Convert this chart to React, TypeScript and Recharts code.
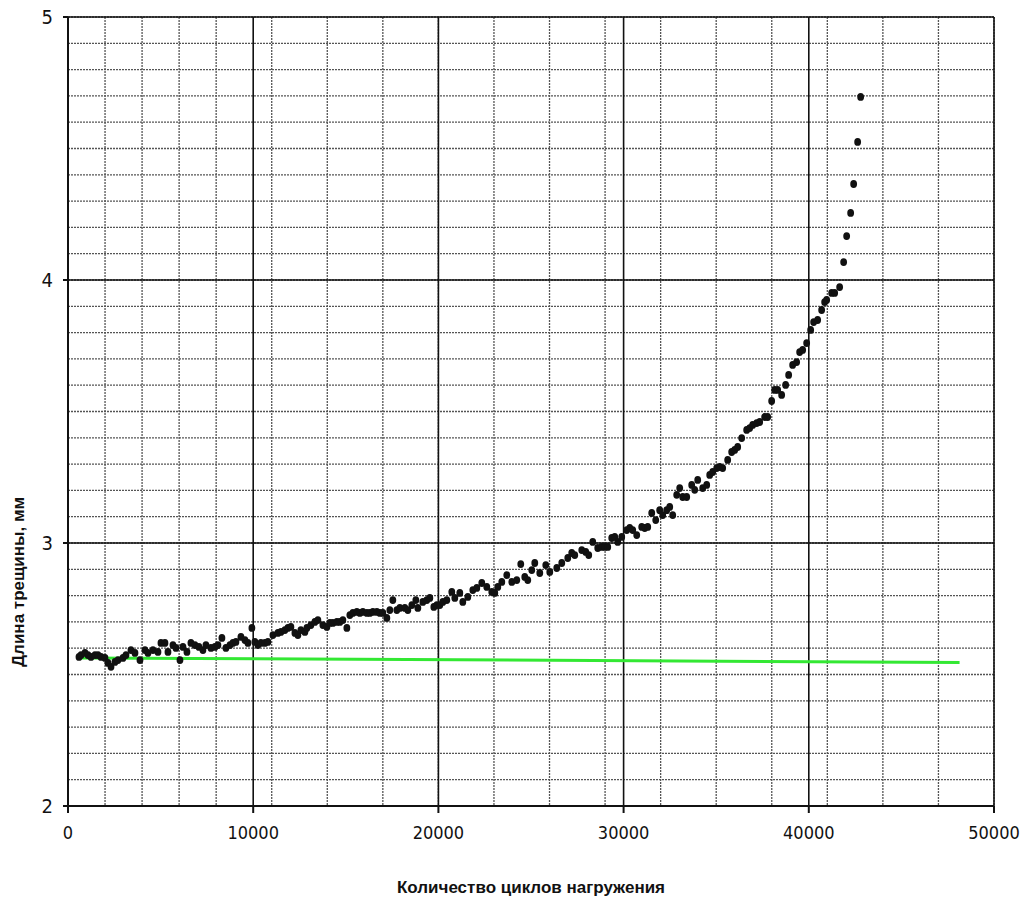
import React from "react";
import {
  ScatterChart,
  Scatter,
  XAxis,
  YAxis,
  CartesianGrid,
  Label,
} from "recharts";

// Number of load cycles for each measured point
const cycles = [
  594, 702, 918, 1079, 1241, 1457, 1619, 1781, 1997, 2159, 2321, 2537, 2699, 2968, 3130, 3400, 3616, 3886, 4156, 4318,
  4587, 4857, 5019, 5235, 5397, 5667, 5829, 6045, 6207, 6422, 6638, 6854, 7070, 7286, 7448, 7718, 7934, 8096, 8311, 8527,
  8743, 8905, 9067, 9337, 9553, 9715, 9930, 10092, 10254, 10416, 10632, 10794, 11064, 11334, 11496, 11711, 11873, 12035, 12251, 12413,
  12575, 12791, 12899, 13115, 13331, 13493, 13763, 13979, 14140, 14302, 14518, 14680, 14842, 15058, 15219, 15381, 15597, 15759, 15921, 16137,
  16299, 16461, 16677, 16839, 17001, 17216, 17378, 17540, 17756, 17918, 18188, 18350, 18566, 18782, 18890, 19159, 19375, 19537, 19753, 19915,
  20077, 20239, 20455, 20724, 20886, 21156, 21318, 21588, 21858, 22074, 22344, 22613, 22883, 23045, 23207, 23423, 23693, 23963, 24232, 24448,
  24664, 24826, 25042, 25204, 25474, 25798, 26014, 26392, 26661, 26986, 27200, 27363, 27741, 27956, 28118, 28334, 28604, 28820, 28982, 29144,
  29360, 29522, 29684, 29899, 30169, 30331, 30493, 30709, 30979, 31141, 31303, 31519, 31735, 31950, 32112, 32328, 32490, 32652, 32868, 33030,
  33192, 33408, 33677, 33839, 34001, 34271, 34487, 34649, 34811, 35027, 35189, 35350, 35620, 35836, 35998, 36160, 36376, 36645, 36807, 36969,
  37185, 37347, 37617, 37779, 37995, 38157, 38319, 38534, 38750, 38912, 39128, 39344, 39506, 39668, 39884, 40100, 40262, 40478, 40694, 40856,
  40964, 41234, 41396, 41666, 41882, 42044, 42260, 42422, 42638, 42800,
];

// Crack length, mm
const crackLength = [
  2.567, 2.574, 2.582, 2.574, 2.567, 2.574, 2.574, 2.567, 2.563, 2.544, 2.529, 2.548, 2.555, 2.563, 2.574, 2.593, 2.582, 2.555, 2.593, 2.582,
  2.593, 2.586, 2.62, 2.62, 2.586, 2.612, 2.601, 2.555, 2.605, 2.586, 2.62, 2.612, 2.605, 2.593, 2.612, 2.601, 2.605, 2.612, 2.639, 2.601,
  2.612, 2.62, 2.624, 2.643, 2.631, 2.62, 2.677, 2.624, 2.612, 2.62, 2.62, 2.624, 2.65, 2.658, 2.662, 2.669, 2.677, 2.681, 2.658, 2.65,
  2.669, 2.662, 2.677, 2.688, 2.7, 2.707, 2.688, 2.681, 2.696, 2.696, 2.7, 2.7, 2.707, 2.677, 2.726, 2.734, 2.738, 2.734, 2.738, 2.734,
  2.734, 2.738, 2.738, 2.734, 2.734, 2.715, 2.745, 2.783, 2.745, 2.753, 2.753, 2.745, 2.764, 2.783, 2.753, 2.776, 2.783, 2.791, 2.757, 2.764,
  2.764, 2.776, 2.783, 2.814, 2.791, 2.81, 2.776, 2.795, 2.821, 2.829, 2.848, 2.833, 2.814, 2.81, 2.833, 2.852, 2.878, 2.852, 2.859, 2.92,
  2.871, 2.859, 2.897, 2.924, 2.886, 2.916, 2.89, 2.905, 2.924, 2.943, 2.962, 2.954, 2.973, 2.966, 2.954, 3.004, 2.981, 2.985, 2.985, 2.985,
  3.019, 3.023, 3.004, 3.023, 3.049, 3.057, 3.049, 3.03, 3.061, 3.057, 3.061, 3.114, 3.087, 3.125, 3.106, 3.125, 3.137, 3.106, 3.183, 3.209,
  3.175, 3.175, 3.221, 3.202, 3.24, 3.209, 3.221, 3.259, 3.27, 3.285, 3.289, 3.285, 3.316, 3.346, 3.354, 3.365, 3.399, 3.43, 3.437, 3.449,
  3.456, 3.46, 3.479, 3.479, 3.54, 3.582, 3.582, 3.563, 3.601, 3.639, 3.677, 3.688, 3.726, 3.734, 3.76, 3.81, 3.84, 3.848, 3.886, 3.916,
  3.924, 3.951, 3.951, 3.973, 4.068, 4.167, 4.255, 4.365, 4.525, 4.696,
];

// Green reference line (initial crack length)
const refCycles = [540, 48140];
const refLength = [2.563, 2.546];

const xTicks = [0, 10000, 20000, 30000, 40000, 50000];
const yTicks = [2, 3, 4, 5];
const xMinor = Array.from({ length: 51 }, (_, i) => i * 1000);
const yMinor = Array.from({ length: 31 }, (_, i) => Math.round((2 + i * 0.1) * 10) / 10);

const points = cycles.map((x, i) => ({ x, y: crackLength[i] }));
const refLine = refCycles.map((x, i) => ({ x, y: refLength[i] }));

const FONT = "'DejaVu Sans Condensed', 'Liberation Sans Narrow', 'Arial Narrow', 'Liberation Sans', Arial, sans-serif";
const TITLE_FONT = "'Liberation Sans', Arial, sans-serif";

const Dot = (props: any) => {
  const { cx, cy } = props;
  if (cx == null || cy == null) return null;
  return <ellipse cx={cx} cy={cy} rx={3.4} ry={3.9} fill="#111" />;
};

const NoDot = () => null;

export default function App() {
  return (
    <div style={{ position: "absolute", left: 0, top: 0, width: 1024, height: 904, background: "#fff" }}>
      <ScatterChart
        width={1024}
        height={904}
        margin={{ top: 17, right: 30, left: 0, bottom: 0 }}
      >
        <CartesianGrid
          stroke="#555"
          strokeWidth={1.3}
          strokeDasharray="2 1"
          horizontalValues={yMinor}
          verticalValues={xMinor}
        />
        <CartesianGrid
          stroke="#111"
          strokeWidth={1.6}
          horizontalValues={yTicks}
          verticalValues={xTicks}
        />
        <XAxis
          type="number"
          dataKey="x"
          domain={[0, 50000]}
          ticks={xTicks}
          allowDataOverflow
          height={98}
          tickSize={7}
          tickMargin={13}
          stroke="#111"
          strokeWidth={2}
          tick={{ fill: "#111", fontSize: 18, fontFamily: FONT }}
        >
          <Label
            content={(p: any) => {
              const vb = p.viewBox || {};
              return (
                <text
                  x={vb.x + vb.width / 2}
                  y={vb.y + 87}
                  textAnchor="middle"
                  fontFamily={TITLE_FONT}
                  fontWeight="bold"
                  fontSize={17}
                  fill="#111"
                >
                  Количество циклов нагружения
                </text>
              );
            }}
          />
        </XAxis>
        <YAxis
          type="number"
          dataKey="y"
          domain={[2, 5]}
          ticks={yTicks}
          allowDataOverflow
          width={68}
          tickSize={5}
          tickMargin={10}
          stroke="#111"
          strokeWidth={2}
          tick={{ fill: "#111", fontSize: 20, fontFamily: FONT }}
        >
          <Label
            content={(p: any) => {
              const vb = p.viewBox || {};
              const cx = 19;
              const cy = vb.y + vb.height * 0.716;
              return (
                <text
                  x={cx}
                  y={cy}
                  transform={`rotate(-90, ${cx}, ${cy})`}
                  textAnchor="middle"
                  dominantBaseline="central"
                  fontFamily={TITLE_FONT}
                  fontWeight="bold"
                  fontSize={17}
                  fill="#111"
                >
                  Длина трещины, мм
                </text>
              );
            }}
          />
        </YAxis>
        <Scatter
          data={refLine}
          line={{ stroke: "#33e833", strokeWidth: 3 }}
          shape={NoDot}
          isAnimationActive={false}
        />
        <Scatter data={points} shape={Dot} isAnimationActive={false} />
      </ScatterChart>
    </div>
  );
}
